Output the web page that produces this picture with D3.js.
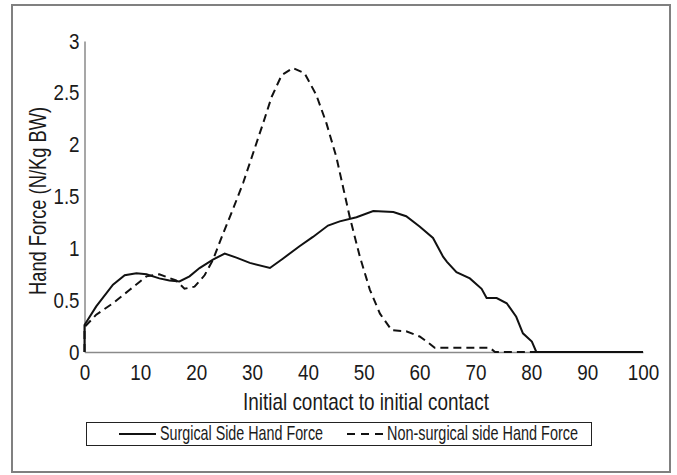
<!DOCTYPE html>
<html>
<head>
<meta charset="utf-8">
<style>
  body { margin: 0; background: #fff; }
  text { font-family: "Liberation Sans", Arial, sans-serif; fill: #1a1a1a; }
</style>
<title>Hand Force</title>
</head>
<body>
<svg id="chart"></svg>
<script src="https://cdn.jsdelivr.net/npm/d3@7"></script>
<script>

// ===== Data =====
var surgicalX = [0, 0, 2.1, 5.1, 7.2, 9.3, 11.1, 13.4, 15.2, 17.0, 18.8, 20.6, 23.0, 25.1, 27.2, 29.6,
                 33.2, 35.5, 38.5, 40.9, 43.6, 45.7, 48.7, 51.7, 55.3, 57.6, 60.0, 62.4, 64.2, 64.9,
                 66.6, 69.0, 71.1, 72.0, 73.8, 75.6, 77.3, 78.5, 80.1, 80.9, 100];
var surgicalY = [0, 0.26, 0.44, 0.65, 0.74, 0.76, 0.75, 0.71, 0.69, 0.68, 0.73, 0.81, 0.89, 0.95, 0.91, 0.86,
                 0.81, 0.90, 1.02, 1.11, 1.22, 1.26, 1.30, 1.36, 1.35, 1.31, 1.21, 1.10, 0.92, 0.87,
                 0.77, 0.71, 0.61, 0.52, 0.52, 0.47, 0.34, 0.18, 0.10, 0, 0];

var nonSurgicalX = [0, 0, 2.1, 5.1, 8.1, 11.1, 13.4, 16.4, 17.9, 19.7, 21.5, 23.0, 24.8, 26.6, 28.4,
                    30.2, 32.0, 33.5, 35.3, 37.3, 39.4, 41.5, 43.3, 45.1, 46.3, 47.5, 49.3, 51.1,
                    52.9, 55.0, 57.6, 60.0, 61.8, 62.7, 72.6, 73.5, 100];
var nonSurgicalY = [0, 0.24, 0.36, 0.47, 0.60, 0.73, 0.75, 0.69, 0.61, 0.63, 0.74, 0.89, 1.14, 1.38, 1.63,
                    1.92, 2.21, 2.46, 2.67, 2.74, 2.69, 2.48, 2.21, 1.88, 1.59, 1.30, 0.92, 0.60,
                    0.37, 0.21, 0.20, 0.15, 0.08, 0.04, 0.04, 0, 0];

var xTicks = [0, 10, 20, 30, 40, 50, 60, 70, 80, 90, 100];
var yTicks = [0, 0.5, 1, 1.5, 2, 2.5, 3];

var seriesNames = ['Surgical Side Hand Force', 'Non-surgical side Hand Force'];

// ===== Layout =====
var W = 677, H = 475;
var plot = {left: 84.5, right: 643, top: 41, bottom: 352};

// the original uses a condensed face; squeeze glyphs to roughly its widths
function narrowWidth(s) {
    return s.split('').reduce((w, c) => w + (c === '.' ? 5 : 10.5), 0);
}

var svg = d3.select('#chart')
    .attr('width', W)
    .attr('height', H);

// outer frame
svg.append('rect')
    .attr('x', 12).attr('y', 5)
    .attr('width', 658).attr('height', 467)
    .attr('fill', 'none')
    .attr('stroke', '#808080')
    .attr('stroke-width', 2);

var x = d3.scaleLinear().domain([0, 100]).range([plot.left, plot.right]);
var y = d3.scaleLinear().domain([0, 3]).range([plot.bottom, plot.top]);

// x axis
var xAxis = svg.append('g')
    .attr('transform', `translate(0, ${plot.bottom})`)
    .call(d3.axisBottom(x).tickValues(xTicks).tickSize(0).tickPadding(12).tickFormat(d3.format('d')));
xAxis.select('.domain').attr('stroke', '#8a8a8a').attr('stroke-width', 1.5);
xAxis.selectAll('text')
    .style('font-size', '22px')
    .attr('fill', '#1a1a1a')
    .attr('textLength', function() { return narrowWidth(this.textContent); })
    .attr('lengthAdjust', 'spacingAndGlyphs');

// y axis
var yAxis = svg.append('g')
    .attr('transform', `translate(${plot.left}, 0)`)
    .call(d3.axisLeft(y).tickValues(yTicks).tickSize(0).tickPadding(5).tickFormat(d => String(d)));
yAxis.select('.domain').attr('stroke', '#8a8a8a').attr('stroke-width', 1.5);
yAxis.selectAll('text')
    .style('font-size', '22px')
    .attr('fill', '#1a1a1a')
    .attr('textLength', function() { return narrowWidth(this.textContent); })
    .attr('lengthAdjust', 'spacingAndGlyphs');

// axis titles
svg.append('text')
    .text('Initial contact to initial contact')
    .attr('x', 366).attr('y', 410)
    .attr('text-anchor', 'middle')
    .attr('textLength', 246)
    .attr('lengthAdjust', 'spacingAndGlyphs')
    .style('font-size', '24px');

svg.append('text')
    .text('Hand Force (N/Kg BW)')
    .attr('transform', 'translate(46, 201) rotate(-90)')
    .attr('text-anchor', 'middle')
    .attr('textLength', 188)
    .attr('lengthAdjust', 'spacingAndGlyphs')
    .style('font-size', '24px');

// ===== Lines =====
var line = d3.line()
    .x(d => x(d[0]))
    .y(d => y(d[1]));

var surgical = surgicalX.map((v, i) => [v, surgicalY[i]]);
var nonSurgical = nonSurgicalX.map((v, i) => [v, nonSurgicalY[i]]);

svg.append('path')
    .datum(nonSurgical)
    .attr('d', line)
    .attr('fill', 'none')
    .attr('stroke', '#111')
    .attr('stroke-width', 2)
    .attr('stroke-dasharray', '8,5');

svg.append('path')
    .datum(surgical)
    .attr('d', line)
    .attr('fill', 'none')
    .attr('stroke', '#111')
    .attr('stroke-width', 2);

// ===== Legend =====
var legend = svg.append('g');
legend.append('rect')
    .attr('x', 86.5).attr('y', 422.5)
    .attr('width', 505).attr('height', 23)
    .attr('fill', '#fff')
    .attr('stroke', '#222')
    .attr('stroke-width', 1);

legend.append('line')
    .attr('x1', 119).attr('x2', 156)
    .attr('y1', 434).attr('y2', 434)
    .attr('stroke', '#111').attr('stroke-width', 2);
legend.append('text')
    .text(seriesNames[0])
    .attr('x', 160).attr('y', 440)
    .attr('textLength', 163)
    .attr('lengthAdjust', 'spacingAndGlyphs')
    .style('font-size', '21px');

legend.append('line')
    .attr('x1', 347).attr('x2', 386)
    .attr('y1', 434).attr('y2', 434)
    .attr('stroke', '#111').attr('stroke-width', 2)
    .attr('stroke-dasharray', '8,6');
legend.append('text')
    .text(seriesNames[1])
    .attr('x', 387).attr('y', 440)
    .attr('textLength', 191)
    .attr('lengthAdjust', 'spacingAndGlyphs')
    .style('font-size', '21px');

</script>
</body>
</html>
